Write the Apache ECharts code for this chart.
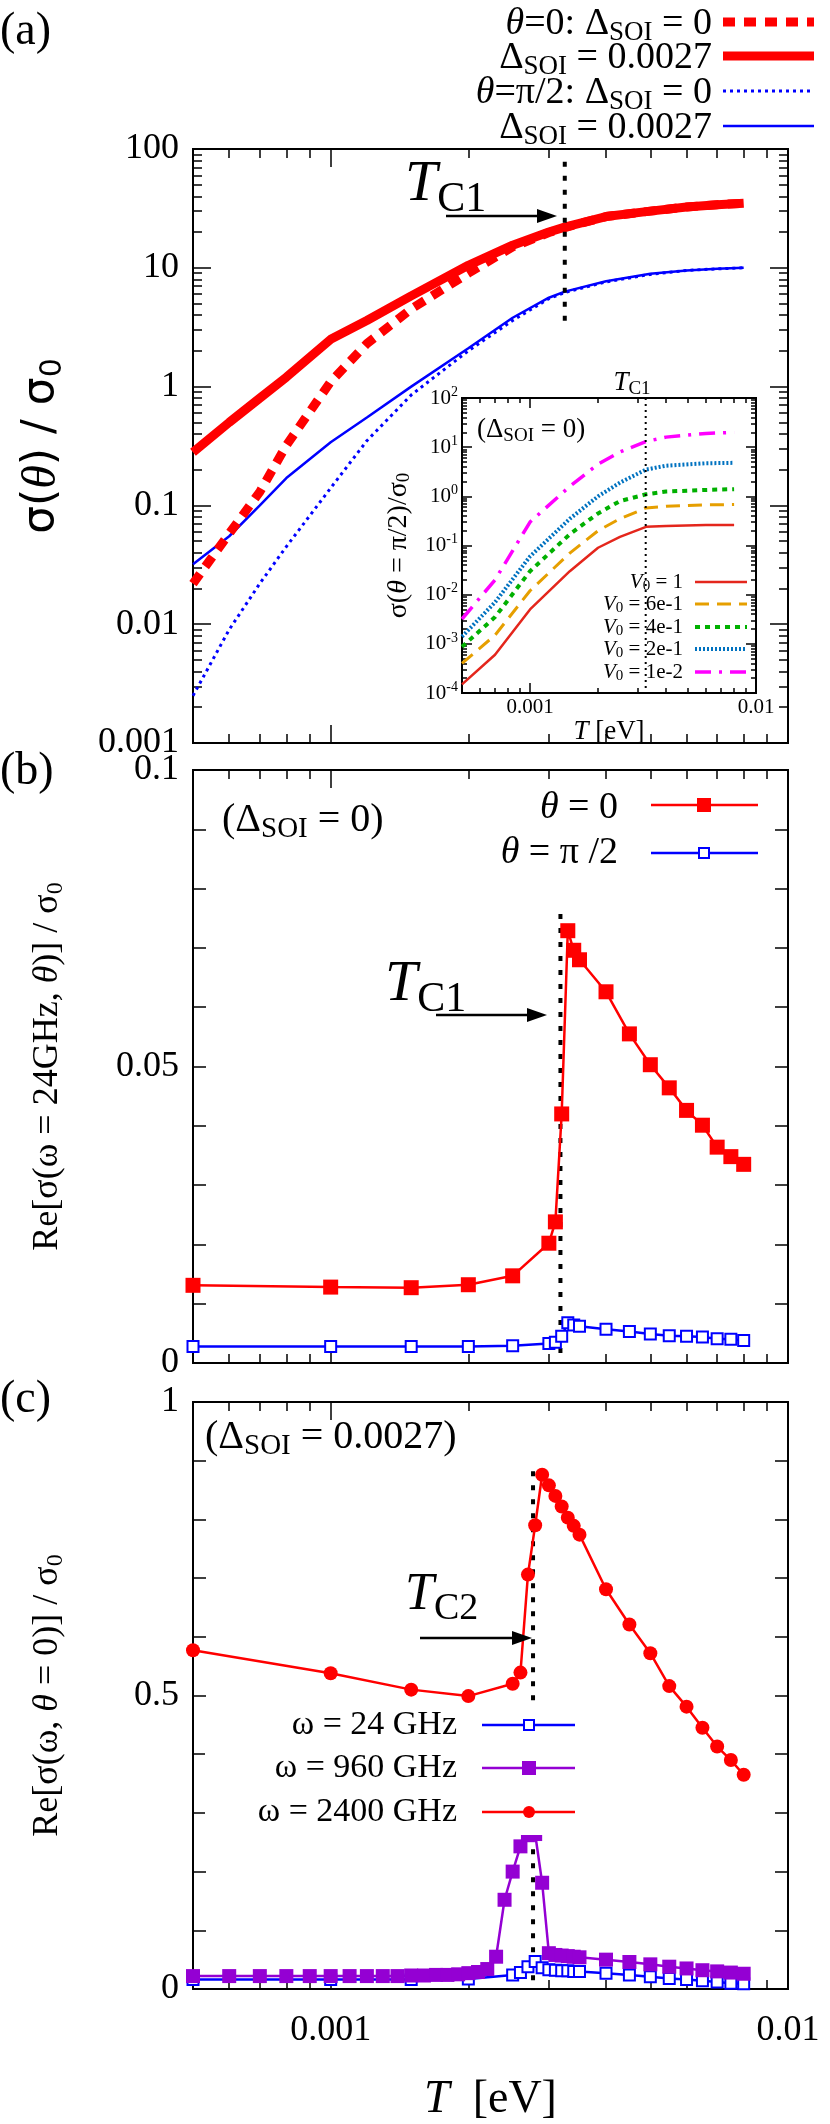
<!DOCTYPE html>
<html><head><meta charset="utf-8">
<script src="https://cdn.jsdelivr.net/npm/echarts@6/dist/echarts.min.js"></script>
<style>html,body{margin:0;padding:0;background:#fff}#c{width:830px;height:2124px}</style>
</head><body><div id="c"></div>
<script>
// ---------- DATA ----------
// Panel (a)
const TA = [0.0005,0.0006,0.0007,0.0008,0.001,0.0012,0.0015,0.002,0.0025,0.003,0.00325,0.004,0.005,0.006,0.007,0.008];
const aRedSOI0    = [0.022,0.058,0.13,0.32,1.1,2.3,4.5,9,15,19.8,21.8,27,30,32.5,34,35];
const aRedSOI     = [0.28,0.5,0.8,1.2,2.5,3.6,5.8,10.5,15.5,20,22,27,30,32.5,34,35];
const aBlueSOI0   = [0.0025,0.009,0.022,0.045,0.14,0.35,0.85,2.0,3.6,5.5,6.2,7.6,8.8,9.5,9.8,10];
const aBlueSOI    = [0.032,0.055,0.1,0.17,0.34,0.55,1.0,2.1,3.8,5.6,6.3,7.7,8.9,9.5,9.8,10];
const TC1 = 0.00325, TC2 = 0.00277;
// Inset
const TI = [0.0005,0.0007,0.001,0.0015,0.002,0.0025,0.00326,0.004,0.006,0.008];
const inV1   = [1.5e-4,6e-4,0.005,0.03,0.09,0.15,0.24,0.25,0.26,0.26];
const inV6   = [4e-4,1.5e-3,0.012,0.07,0.2,0.35,0.58,0.63,0.67,0.68];
const inV4   = [8.7e-4,3.5e-3,0.03,0.17,0.45,0.8,1.1,1.25,1.35,1.4];
const inV2   = [1.4e-3,7e-3,0.06,0.35,1.0,1.9,3.5,4.2,4.7,4.8];
const inV001 = [3.2e-3,0.02,0.3,1.6,4.5,8,13,16,19,20];
// Panel (b)
const TB = [0.0005,0.001,0.0015,0.002,0.0025,0.003,0.0031,0.0032,0.0033,0.0034,0.0035,0.004,0.0045,0.005,0.0055,0.006,0.0065,0.007,0.0075,0.008];
const bTheta0  = [0.0131,0.0128,0.0127,0.0132,0.0147,0.0202,0.0238,0.042,0.0729,0.0696,0.068,0.0626,0.0555,0.0503,0.0464,0.0426,0.0401,0.0364,0.0348,0.0335];
const bThetaPi = [0.0028,0.0028,0.0028,0.0028,0.0029,0.0033,0.0035,0.0045,0.0068,0.0064,0.0062,0.0057,0.0053,0.0049,0.0046,0.0045,0.0044,0.0041,0.004,0.0038];
// Panel (c)
const TC = [0.0005,0.001,0.0015,0.002,0.0025,0.0026,0.0027,0.0028,0.0029,0.003,0.0031,0.0032,0.0033,0.0034,0.0035,0.004,0.0045,0.005,0.0055,0.006,0.0065,0.007,0.0075,0.008];
const c2400 = [0.577,0.538,0.510,0.499,0.520,0.539,0.706,0.790,0.876,0.858,0.840,0.822,0.803,0.789,0.774,0.681,0.621,0.572,0.516,0.481,0.445,0.413,0.390,0.365];
const c24   = [0.016,0.016,0.016,0.017,0.024,0.028,0.038,0.047,0.036,0.033,0.032,0.031,0.031,0.030,0.030,0.027,0.024,0.021,0.018,0.016,0.014,0.012,0.010,0.009];
const TP = [0.0005,0.0006,0.0007,0.0008,0.0009,0.001,0.0011,0.0012,0.0013,0.0014,0.0015,0.0016,0.0017,0.0018,0.0019,0.002,0.0021,0.0022,0.0023,0.0024,0.0025,0.0026,0.0027,0.0028,0.0029,0.003,0.0031,0.0032,0.0033,0.0034,0.0035,0.004,0.0045,0.005,0.0055,0.006,0.0065,0.007,0.0075,0.008];
const c960 = [0.022,0.022,0.022,0.022,0.022,0.022,0.022,0.022,0.022,0.022,0.023,0.023,0.024,0.024,0.025,0.027,0.029,0.034,0.055,0.152,0.2,0.243,0.262,0.264,0.181,0.061,0.058,0.057,0.056,0.055,0.054,0.050,0.046,0.042,0.038,0.035,0.032,0.030,0.028,0.026];
// tick values
const xMinor = [0.0006,0.0007,0.0008,0.0009,0.002,0.003,0.004,0.005,0.006,0.007,0.008,0.009];
const xMajor = [0.001];
const xLabels = [0.001,0.01];
const aYLabels = [0.001,0.01,0.1,1,10,100];
const aYMinor = [0.002,0.003,0.004,0.005,0.006,0.007,0.008,0.009,0.02,0.03,0.04,0.05,0.06,0.07,0.08,0.09,0.2,0.3,0.4,0.5,0.6,0.7,0.8,0.9,2,3,4,5,6,7,8,9,20,30,40,50,60,70,80,90];
const inYLabels = [1e-4,1e-3,1e-2,1e-1,1,10,100];
const inYMinor = [2e-4,3e-4,4e-4,5e-4,6e-4,7e-4,8e-4,9e-4,2e-3,3e-3,4e-3,5e-3,6e-3,7e-3,8e-3,9e-3,0.02,0.03,0.04,0.05,0.06,0.07,0.08,0.09,0.2,0.3,0.4,0.5,0.6,0.7,0.8,0.9,2,3,4,5,6,7,8,9,20,30,40,50,60,70,80,90];

// ---------- CHART ----------
const F = '"Liberation Serif", "Times New Roman", serif';
const zip = (xs, ys) => xs.map((x, i) => [x, ys[i]]);
const chart = echarts.init(document.getElementById('c'), null, {renderer: 'canvas'});
const L = 193, W = 595;
const grids = [
  {left: L, top: 149, width: W, height: 594},
  {left: L, top: 770, width: W, height: 593},
  {left: L, top: 1402, width: W, height: 594},
  {left: 462, top: 398, width: 294, height: 295}
];
const xAxis = [], yAxis = [];
const axLine = {show: true, lineStyle: {color: '#000', width: 2}};
function addX(g, opts) {
  const base = {type: 'log', logBase: 10, min: 0.0005, max: 0.01, gridIndex: g, splitLine: {show: false}, axisLine: axLine};
  const minorLen = g === 3 ? 5 : 9, majorLen = g === 3 ? 10 : 18;
  ['bottom', 'top'].forEach(pos => {
    xAxis.push(Object.assign({}, base, {position: pos, axisTick: {inside: true, length: minorLen, lineStyle: {color: '#000', width: 1.5}, customValues: xMinor}, axisLabel: {show: false}}));
    xAxis.push(Object.assign({}, base, {position: pos, axisTick: {inside: true, length: majorLen, lineStyle: {color: '#000', width: 1.5}, customValues: xMajor}, axisLabel: {show: false}}));
  });
  const main = xAxis[xAxis.length - 4];
  if (opts) Object.assign(main, opts);
  return xAxis.length - 4;
}
function addYLog(g, min, max, minor, labels, labelOpts, nameOpts) {
  const base = {type: 'log', logBase: 10, min, max, gridIndex: g, splitLine: {show: false}, axisLine: axLine};
  const minorLen = g === 3 ? 5 : 9, majorLen = g === 3 ? 10 : 18;
  ['left', 'right'].forEach(pos => {
    yAxis.push(Object.assign({}, base, {position: pos, axisTick: {inside: true, length: minorLen, lineStyle: {color: '#000', width: 1.5}, customValues: minor}, axisLabel: {show: false}}));
    yAxis.push(Object.assign({}, base, {position: pos, axisTick: {inside: true, length: majorLen, lineStyle: {color: '#000', width: 1.5}, customValues: labels}, axisLabel: {show: false}}));
  });
  const main = yAxis[yAxis.length - 3];
  main.axisLabel = Object.assign({show: true, customValues: labels}, labelOpts);
  Object.assign(main, nameOpts);
  return yAxis.length - 3;
}
function addYLin(g, max, interval, labels, labelOpts, nameOpts) {
  const base = {type: 'value', min: 0, max, interval, gridIndex: g, splitLine: {show: false}, axisLine: axLine};
  ['left', 'right'].forEach(pos => {
    yAxis.push(Object.assign({}, base, {position: pos, axisTick: {inside: true, length: 13, lineStyle: {color: '#000', width: 1.5}}, axisLabel: {show: false}}));
  });
  const main = yAxis[yAxis.length - 2];
  main.axisLabel = Object.assign({show: true, customValues: labels}, labelOpts);
  Object.assign(main, nameOpts);
  return yAxis.length - 2;
}
const bigLab = {fontFamily: F, fontSize: 36, color: '#000', margin: 14};
const xa = addX(0), xb = addX(1);
const xc = addX(2, {
  axisLabel: {show: true, customValues: xLabels, formatter: v => v < 0.005 ? '0.001' : '0.01', fontFamily: F, fontSize: 36, color: '#000', margin: 24},
  name: '{i|T}  [eV]', nameLocation: 'middle', nameGap: 88,
  nameTextStyle: {fontFamily: F, fontSize: 46, color: '#000', rich: {i: {fontFamily: F, fontStyle: 'italic', fontSize: 46}}}
});
const xi = addX(3, {
  axisLabel: {show: true, customValues: xLabels, formatter: v => v < 0.005 ? '0.001' : '0.01', fontFamily: F, fontSize: 21, color: '#000', margin: 4},
  name: '{i|T} [eV]', nameLocation: 'middle', nameGap: 24,
  nameTextStyle: {fontFamily: F, fontSize: 27, color: '#000', rich: {i: {fontFamily: F, fontStyle: 'italic', fontSize: 27}}}
});
const ya = addYLog(0, 0.001, 100, aYMinor, aYLabels, Object.assign({}, bigLab, {formatter: v => String(v)}),
  {name: 'σ({i|θ}) / σ{s|0}', nameLocation: 'middle', nameGap: 125,
   nameTextStyle: {fontFamily: 'DejaVu Sans', fontSize: 44, color: '#000', rich: {i: {fontFamily: F, fontStyle: 'italic', fontSize: 48}, s: {fontFamily: 'DejaVu Sans', fontSize: 30, verticalAlign: 'bottom', padding: [22, 0, 0, 0]}}}});
const yb = addYLin(1, 0.1, 0.01, [0, 0.05, 0.1], Object.assign({}, bigLab, {formatter: v => v === 0 ? '0' : (v > 0.09 ? '0.1' : '0.05')}),
  {name: 'Re[σ(ω = 24GHz, {i|θ})] / σ{s|0}', nameLocation: 'middle', nameGap: 125,
   nameTextStyle: {fontFamily: F, fontSize: 36, color: '#000', rich: {i: {fontFamily: F, fontStyle: 'italic', fontSize: 36}, s: {fontFamily: F, fontSize: 24, padding: [16, 0, 0, 0]}}}});
const yc = addYLin(2, 1, 0.1, [0, 0.5, 1], Object.assign({}, bigLab, {formatter: v => v === 0 ? '0' : (v > 0.9 ? '1' : '0.5')}),
  {name: 'Re[σ(ω, {i|θ} = 0)] / σ{s|0}', nameLocation: 'middle', nameGap: 125,
   nameTextStyle: {fontFamily: F, fontSize: 36, color: '#000', rich: {i: {fontFamily: F, fontStyle: 'italic', fontSize: 36}, s: {fontFamily: F, fontSize: 24, padding: [16, 0, 0, 0]}}}});
const yi = addYLog(3, 1e-4, 100, inYMinor, inYLabels,
  {fontFamily: F, fontSize: 21, color: '#000', margin: 4,
   formatter: v => '10{p|' + Math.round(Math.log10(v)) + '}', rich: {p: {fontFamily: F, fontSize: 14, verticalAlign: 'top', padding: [0, 0, 12, 0]}}},
  {name: 'σ({i|θ} = π/2)/σ{s|0}', nameLocation: 'middle', nameGap: 48,
   nameTextStyle: {fontFamily: F, fontSize: 28, color: '#000', rich: {i: {fontFamily: F, fontStyle: 'italic', fontSize: 28}, s: {fontFamily: F, fontSize: 19, padding: [12, 0, 0, 0]}}}});

function line(xi_, yi_, data, color, width, type, extra) {
  return Object.assign({type: 'line', xAxisIndex: xi_, yAxisIndex: yi_, data, showSymbol: false, symbol: 'none', animation: false,
    lineStyle: {color, width, type: type || 'solid'}, itemStyle: {color}, z: 3}, extra || {});
}
const series = [
  line(xa, ya, zip(TA, aBlueSOI0), '#0000ff', 3, [3, 4]),
  line(xa, ya, zip(TA, aBlueSOI), '#0000ff', 2.5),
  line(xa, ya, zip(TA, aRedSOI), '#ff0000', 9),
  line(xa, ya, zip(TA, aRedSOI0), '#ff0000', 9, [12, 9]),
  line(xa, ya, [[TC1, 78], [TC1, 3.3]], '#000', 4, [5, 9], {z: 5}),
  // inset
  line(xi, yi, zip(TI, inV1), '#e4261c', 2.5),
  line(xi, yi, zip(TI, inV6), '#e69f00', 3, [14, 8]),
  line(xi, yi, zip(TI, inV4), '#00b000', 4, [5, 5]),
  line(xi, yi, zip(TI, inV2), '#0072c0', 4, [2, 2]),
  line(xi, yi, zip(TI, inV001), '#ff00ff', 3.5, [16, 8, 3, 8]),
  line(xi, yi, [[TC1, 100], [TC1, 1e-4]], '#000', 2, [2, 4]),
  // panel b
  line(xb, yb, [[0.00318, 0.0757], [0.00318, 0]], '#000', 4, [5, 9], {z: 2}),
  line(xb, yb, zip(TB, bThetaPi), '#0000ff', 2.5, 'solid', {showSymbol: true, symbol: 'rect', symbolSize: 11, itemStyle: {color: '#fff', borderColor: '#0000ff', borderWidth: 2}}),
  line(xb, yb, zip(TB, bTheta0), '#ff0000', 2.5, 'solid', {showSymbol: true, symbol: 'rect', symbolSize: 15, itemStyle: {color: '#ff0000'}}),
  // panel c
  line(xc, yc, [[TC2, 0.882], [TC2, 0]], '#000', 4, [5, 9], {z: 2}),
  line(xc, yc, zip(TC, c24), '#0000ff', 2.5, 'solid', {showSymbol: true, symbol: 'rect', symbolSize: 11, itemStyle: {color: '#fff', borderColor: '#0000ff', borderWidth: 2}}),
  line(xc, yc, zip(TP, c960), '#9400d3', 2.5, 'solid', {showSymbol: true, symbol: 'rect', symbolSize: 14, itemStyle: {color: '#9400d3'}}),
  line(xc, yc, zip(TC, c2400), '#ff0000', 2.5, 'solid', {showSymbol: true, symbol: 'circle', symbolSize: 14, itemStyle: {color: '#ff0000'}})
];

// ---------- ANNOTATIONS ----------
const rich = (fs) => ({
  i: {fontFamily: F, fontStyle: 'italic', fontSize: fs, fill: '#000'},
  s: {fontFamily: F, fontSize: Math.round(fs * 0.72), fill: '#000', padding: [Math.round(fs * 0.45), 0, 0, 0]},
  n: {fontFamily: F, fontSize: fs, fill: '#000'}
});
function txt(x, y, text, fs, align, extra) {
  return Object.assign({type: 'text', z: 50, style: {x, y, text, font: fs + 'px ' + F, fontFamily: F, fontSize: fs, fill: '#000', align: align || 'left', verticalAlign: 'middle', rich: rich(fs)}}, extra || {});
}
function tc(x, y, sub, big, small, pad) {
  return {type: 'text', z: 50, style: {x, y, text: '{i|T}{s|' + sub + '}', fontFamily: F, verticalAlign: 'middle',
    rich: {i: {fontFamily: F, fontStyle: 'italic', fontSize: big, fill: '#000'}, s: {fontFamily: F, fontSize: small, fill: '#000', padding: [pad, 0, 0, 0]}}}};
}
function seg(x1, y1, x2, y2, color, width, dash) {
  return {type: 'line', z: 50, shape: {x1, y1, x2, y2}, style: {stroke: color, lineWidth: width, lineDash: dash || null}};
}
function arrow(x1, x2, y) {
  return [seg(x1, y, x2 - 14, y, '#000', 2.5),
    {type: 'polygon', z: 50, shape: {points: [[x2, y], [x2 - 20, y - 7], [x2 - 20, y + 7]]}, style: {fill: '#000'}}];
}
const g = [];
g.push(txt(0, 32, '{n|(a)}', 46), txt(0, 772, '{n|(b)}', 46), txt(0, 1400, '{n|(c)}', 46));
// legend (a)
g.push(txt(712, 24, '{i|θ}{n|=0: Δ}{s|SOI}{n| = 0}', 38, 'right'));
g.push(txt(712, 58, '{n|Δ}{s|SOI}{n| = 0.0027}', 38, 'right'));
g.push(txt(712, 93, '{i|θ}{n|=π/2: Δ}{s|SOI}{n| = 0}', 38, 'right'));
g.push(txt(712, 128, '{n|Δ}{s|SOI}{n| = 0.0027}', 38, 'right'));
g.push(seg(723, 22, 814, 22, '#ff0000', 9, [12, 9]), seg(723, 56, 814, 56, '#ff0000', 9),
  seg(723, 91, 814, 91, '#0000ff', 3, [3, 4]), seg(723, 126, 814, 126, '#0000ff', 2.5));
// Tc labels (a)
g.push(tc(405, 185, 'C1', 58, 42, 30));
g.push(...arrow(446, 557, 216));
// inset labels
g.push(txt(477, 430, '{n|(Δ}{s|SOI}{n| = 0)}', 27));
g.push(txt(632, 383, '{i|T}{s|C1}', 27, 'center'));
const inLeg = [['1', 582, '#e4261c', 2.5, null], ['6e-1', 604, '#e69f00', 3, [14, 8]], ['4e-1', 627, '#00b000', 4, [5, 5]], ['2e-1', 649, '#0072c0', 4, [2, 2]], ['1e-2', 672, '#ff00ff', 3.5, [16, 8, 3, 8]]];
inLeg.forEach(([lab, y, c, w, d]) => {
  g.push(txt(683, y, '{i|V}{s|0}{n| = ' + lab + '}', 21, 'right'));
  g.push(seg(695, y, 747, y, c, w, d));
});
// panel (b)
g.push(txt(222, 820, '{n|(Δ}{s|SOI}{n| = 0)}', 40));
g.push(txt(618, 808, '{i|θ}{n| = 0}', 38, 'right'), txt(618, 853, '{i|θ}{n| = π /2}', 38, 'right'));
g.push(seg(651, 805, 758, 805, '#ff0000', 2.5), {type: 'rect', z: 51, shape: {x: 697, y: 798, width: 14, height: 14}, style: {fill: '#ff0000'}});
g.push(seg(651, 853, 758, 853, '#0000ff', 2.5), {type: 'rect', z: 51, shape: {x: 699, y: 848, width: 10, height: 10}, style: {fill: '#fff', stroke: '#0000ff', lineWidth: 2}});
g.push(tc(385, 985, 'C1', 58, 42, 30));
g.push(...arrow(436, 547, 1015));
// panel (c)
g.push(txt(205, 1437, '{n|(Δ}{s|SOI}{n| = 0.0027)}', 40));
g.push(tc(405, 1595, 'C2', 52, 38, 28));
g.push(...arrow(420, 532, 1638));
g.push({type: 'rect', z: 48, shape: {x: 205, y: 1705, width: 375, height: 130}, style: {fill: '#fff'}});
g.push(txt(457, 1725, '{n|ω = 24 GHz}', 34, 'right'), txt(457, 1768, '{n|ω = 960 GHz}', 34, 'right'), txt(457, 1812, '{n|ω = 2400 GHz}', 34, 'right'));
g.push(seg(482, 1725, 575, 1725, '#0000ff', 2.5), {type: 'rect', z: 51, shape: {x: 524, y: 1720, width: 10, height: 10}, style: {fill: '#fff', stroke: '#0000ff', lineWidth: 2}});
g.push(seg(482, 1768, 575, 1768, '#9400d3', 2.5), {type: 'rect', z: 51, shape: {x: 522, y: 1761, width: 14, height: 14}, style: {fill: '#9400d3'}});
g.push(seg(482, 1812, 575, 1812, '#ff0000', 2.5), {type: 'circle', z: 51, shape: {cx: 529, cy: 1812, r: 6}, style: {fill: '#ff0000'}});
// inset background
g.push({type: 'rect', z: 0, shape: {x: 462, y: 398, width: 294, height: 295}, style: {fill: '#fff'}});

chart.setOption({
  animation: false,
  backgroundColor: '#fff',
  textStyle: {fontFamily: F},
  grid: grids,
  xAxis, yAxis, series,
  graphic: {elements: g}
});
</script></body></html>
